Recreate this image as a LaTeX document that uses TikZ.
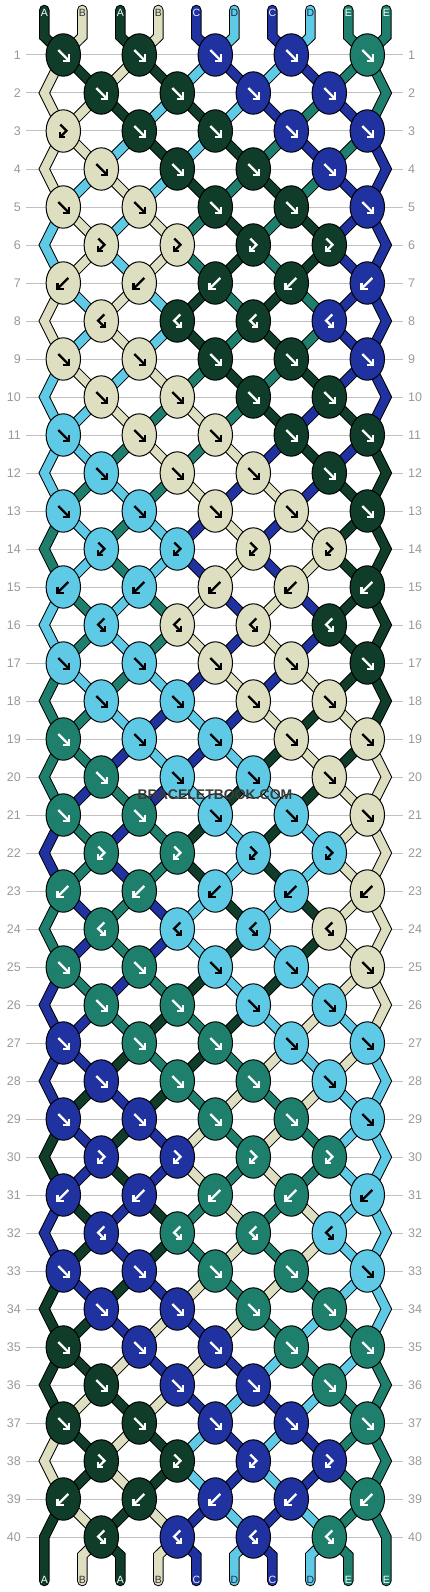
\documentclass[tikz,border=0pt]{standalone}
\usepackage{fontspec}
\setmainfont{Liberation Sans}
\definecolor{cA}{HTML}{0F3D29}
\definecolor{cB}{HTML}{DEDEC0}
\definecolor{cC}{HTML}{2031A0}
\definecolor{cD}{HTML}{5FCAE6}
\definecolor{cE}{HTML}{1F7F6D}
\colorlet{tA}{white}
\colorlet{tB}{black}
\colorlet{tC}{white}
\colorlet{tD}{black}
\colorlet{tE}{white}
\colorlet{lA}{white}
\definecolor{lB}{HTML}{333333}
\definecolor{lC}{HTML}{EEEEFF}
\definecolor{lD}{HTML}{1A2A50}
\colorlet{lE}{white}
\definecolor{gridc}{HTML}{C0C0C0}
\definecolor{numc}{HTML}{999999}
\definecolor{wmark}{HTML}{3A3A3A}
\tikzset{
  tube/.style={draw=black, line width=1pt, double=#1, double distance=8.5pt, line join=miter},
  glyph/.style={line width=2.3pt, line join=miter, line cap=butt},
  gridline/.style={draw=gridc, line width=1pt},
  rownum/.style={text=numc, font=\fontsize{12.5}{12.5}\selectfont, inner sep=0pt},
  strlab/.style={font=\fontsize{10.5}{10.5}\selectfont, inner sep=0pt},
  knotshape/.style={draw=black, line width=1pt}
}
\newcommand\kglyph[1]{%
 \ifcase#1\or
  \draw[glyph] (-5,-5) -- (5,5); \draw[glyph] (-0.5,5.8) -- (5.8,5.8) -- (5.8,-0.5);
 \or
  \draw[glyph] (5,-5) -- (-5,5); \draw[glyph] (0.5,5.8) -- (-5.8,5.8) -- (-5.8,-0.5);
 \or
  \draw[glyph] (-3,-6.5) -- (3.2,-0.3) -- (-2.6,5.5); \draw[glyph] (1.8,6.3) -- (-3.4,6.3) -- (-3.4,1.1);
 \or
  \draw[glyph] (3,-6.5) -- (-3.2,-0.3) -- (2.6,5.5); \draw[glyph] (-1.8,6.3) -- (3.4,6.3) -- (3.4,1.1);
 \fi}
\def\knotdata{1/1/{A,B,A,B,C,D,C,D,E,E},
2/1/{B,A,B,A,D,C,D,C,E,E},
3/1/{B,B,A,D,A,D,C,E,C,E},
4/1/{B,B,D,A,D,A,E,C,E,C},
5/1/{B,D,B,D,A,E,A,E,C,C},
6/3/{D,B,D,B,E,A,E,A,C,C},
7/2/{D,B,D,B,E,A,E,A,C,C},
8/4/{B,D,B,D,A,E,A,E,C,C},
9/1/{B,D,B,D,A,E,A,E,C,C},
10/1/{D,B,D,B,E,A,E,A,C,C},
11/1/{D,D,B,E,B,E,A,C,A,C},
12/1/{D,D,E,B,E,B,C,A,C,A},
13/1/{D,E,D,E,B,C,B,C,A,A},
14/3/{E,D,E,D,C,B,C,B,A,A},
15/2/{E,D,E,D,C,B,C,B,A,A},
16/4/{D,E,D,E,B,C,B,C,A,A},
17/1/{D,E,D,E,B,C,B,C,A,A},
18/1/{E,D,E,D,C,B,C,B,A,A},
19/1/{E,E,D,C,D,C,B,A,B,A},
20/1/{E,E,C,D,C,D,A,B,A,B},
21/1/{E,C,E,C,D,A,D,A,B,B},
22/3/{C,E,C,E,A,D,A,D,B,B},
23/2/{C,E,C,E,A,D,A,D,B,B},
24/4/{E,C,E,C,D,A,D,A,B,B},
25/1/{E,C,E,C,D,A,D,A,B,B},
26/1/{C,E,C,E,A,D,A,D,B,B},
27/1/{C,C,E,A,E,A,D,B,D,B},
28/1/{C,C,A,E,A,E,B,D,B,D},
29/1/{C,A,C,A,E,B,E,B,D,D},
30/3/{A,C,A,C,B,E,B,E,D,D},
31/2/{A,C,A,C,B,E,B,E,D,D},
32/4/{C,A,C,A,E,B,E,B,D,D},
33/1/{C,A,C,A,E,B,E,B,D,D},
34/1/{A,C,A,C,B,E,B,E,D,D},
35/1/{A,A,C,B,C,B,E,D,E,D},
36/1/{A,A,B,C,B,C,D,E,D,E},
37/1/{A,B,A,B,C,D,C,D,E,E},
38/3/{B,A,B,A,D,C,D,C,E,E},
39/2/{B,A,B,A,D,C,D,C,E,E},
40/4/{A,B,A,B,C,D,C,D,E,E}}
\begin{document}
\begin{tikzpicture}[x=1pt,y=-1pt]
\useasboundingbox (0,0) rectangle (430,1592);
\fill[white] (0,0) rectangle (430,1592);
% grid lines and row numbers
\foreach \kr in {1,...,40} {
  \pgfmathsetmacro\yr{55+38*(\kr-1)}
  \draw[gridline] (26,\yr) -- (403,\yr);
  \node[rownum, anchor=east] (ln\kr) at (21,\yr) {\kr};
  \node[rownum, anchor=west] (rn\kr) at (408,\yr) {\kr};
}
% tubes
\foreach \kr/\kt/\ks in \knotdata {
  \pgfmathsetmacro\yr{55+38*(\kr-1)}
  \pgfmathsetmacro\yp{\yr-38}
  \pgfmathsetmacro\yn{\yr+38}
  \foreach \kc [count=\i] in \ks {
    \pgfmathsetmacro\xi{44.3+38*(\i-1)}
    \pgfmathsetmacro\sg{ifthenelse(mod(\i+\kr,2)==0,1,-1)}
    \pgfmathsetmacro\ed{ifthenelse(\i==1,19,-19)}
    \ifnum\kr=1
      \draw[tube=c\kc, line cap=round] (\xi,10) -- (\xi,36.6) -- ({\xi+19*\sg},\yr);
    \else
      \ifnum\i=1 \def\isedge{1}\else\ifnum\i=10 \def\isedge{1}\else\def\isedge{0}\fi\fi
      \ifnum\isedge=1
        \ifodd\kr\else
          \ifnum\kr=40
            \draw[tube=c\kc, line cap=round] ({\xi+\ed},\yp) -- (\xi,\yr) -- (\xi,1581);
          \else
            \draw[tube=c\kc] ({\xi+\ed},\yp) -- (\xi,\yr) -- ({\xi+\ed},\yn);
          \fi
        \fi
      \else
        \draw[tube=c\kc] ({\xi-19*\sg},\yp) -- ({\xi+19*\sg},\yr);
      \fi
    \fi
  }
}
% bottom tails for inner strands
\foreach \kc [count=\i] in {A,B,A,B,C,D,C,D,E,E} {
  \pgfmathsetmacro\xi{44.3+38*(\i-1)}
  \pgfmathsetmacro\sg{ifthenelse(mod(\i,2)==0,1,-1)}
  \ifnum\i>1 \ifnum\i<10
    \draw[tube=c\kc, line cap=round] ({\xi+19*\sg},1537) -- (\xi,1555.4) -- (\xi,1581);
  \fi\fi
}
% knots
\foreach \kr/\kt/\ks in \knotdata {
  \pgfmathsetmacro\yr{55+38*(\kr-1)}
  \foreach \kc [count=\i] in \ks {
    \pgfmathtruncatemacro\pp{mod(\i+\kt+\kr+1,2)}
    \pgfmathtruncatemacro\ok{ifthenelse(mod(\kr,2)==1,1,ifthenelse(\i>1,ifthenelse(\i<10,1,0),0))}
    \ifnum\pp=0 \ifnum\ok=1
      \pgfmathsetmacro\kx{44.3+38*(\i-1)+ifthenelse(mod(\kt,2)==1,19,-19)}
      \pgfmathtruncatemacro\gt{ifthenelse(\kr==3,ifthenelse(\i==1,3,\kt),\kt)}
      \filldraw[knotshape, fill=c\kc] (\kx,\yr) ellipse [x radius=17.2pt, y radius=21.2pt];
      \begin{scope}[shift={(\kx,\yr)}, color=t\kc]
        \kglyph{\gt}
      \end{scope}
    \fi\fi
  }
}
% strand labels
\foreach \kc [count=\i] in {A,B,A,B,C,D,C,D,E,E} {
  \pgfmathsetmacro\xi{44.3+38*(\i-1)}
  \node[strlab, text=l\kc] (top\i) at (\xi,13) {\kc};
  \node[strlab, text=l\kc] (bot\i) at (\xi,1580) {\kc};
}
\node[text=wmark, font=\bfseries\fontsize{14}{14}\selectfont, inner sep=0pt] (wm) at (215,795) {BRACELETBOOK.COM};
\end{tikzpicture}
\end{document}
